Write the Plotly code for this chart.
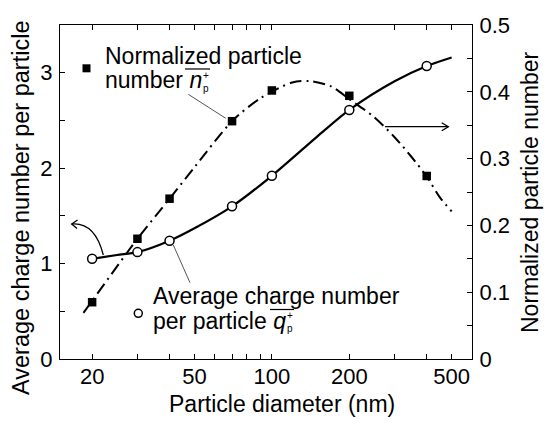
import math
import plotly.graph_objects as go

# ---- data -----------------------------------------------------------------
diam = [20, 30, 40, 70, 100, 200, 400]                      # nm
charge = [1.05, 1.12, 1.24, 1.60, 1.92, 2.61, 3.07]         # left axis
norm_num = [0.085, 0.180, 0.240, 0.356, 0.402, 0.394, 0.274]  # right axis

# fitted curves
fit_q_d = [20, 25, 30, 40, 50, 70, 100, 150, 200, 300, 400, 500]
fit_q = [1.05, 1.09, 1.12, 1.24, 1.37, 1.60, 1.92, 2.33, 2.61, 2.91, 3.07, 3.16]

fit_n_d = [18.5, 20, 30, 40, 50, 70, 90, 120, 140, 170, 200, 250, 300, 350, 400, 450, 500]
fit_n = [0.069, 0.087, 0.180, 0.240, 0.287, 0.356, 0.390, 0.414, 0.416, 0.408,
         0.389, 0.362, 0.332, 0.302, 0.273, 0.242, 0.221]

x_ticks = [20, 50, 100, 200, 500]
x_minor = [30, 40, 60, 70, 80, 90, 300, 400]
y1_ticks = [0, 1, 2, 3]
y1_minor = [0.5, 1.5, 2.5]
y2_ticks = [0, 0.1, 0.2, 0.3, 0.4, 0.5]
y2_labels = ['0', '0.1', '0.2', '0.3', '0.4', '0.5']
y2_minor = [0.05, 0.15, 0.25, 0.35, 0.45]

# ---- geometry (page pixels, body margin removed below) ---------------------
W, H = 550, 428
L, T = 60, 25           # plot area left / top
PW, PH = 412, 334       # plot area size
FONT = 'Liberation Sans, Arial, sans-serif'


def px( x ) :
    return ( x - L ) / PW


def py( y ) :
    return ( T + PH - y ) / PH


def path( pts ) :
    return 'M ' + ' L '.join( f'{px(a):.4f},{py(b):.4f}' for a, b in pts )


fig = go.Figure( )

# curves and points
fig.add_trace( go.Scatter(
    x = fit_q_d, y = fit_q, mode = 'lines', yaxis = 'y',
    line = dict( color = 'black', width = 2.2, shape = 'spline', smoothing = 0.8 ),
    hoverinfo = 'skip', showlegend = False
) )
fig.add_trace( go.Scatter(
    x = diam, y = charge, mode = 'markers', yaxis = 'y',
    marker = dict( symbol = 'circle', size = 9, color = 'white',
                   line = dict( color = 'black', width = 1.5 ) ),
    showlegend = False
) )
fig.add_trace( go.Scatter(
    x = fit_n_d, y = fit_n, mode = 'lines', yaxis = 'y2',
    line = dict( color = 'black', width = 2, dash = '12px,5px,2px,5px',
                 shape = 'spline', smoothing = 0.8 ),
    hoverinfo = 'skip', showlegend = False
) )
fig.add_trace( go.Scatter(
    x = diam, y = norm_num, mode = 'markers', yaxis = 'y2',
    marker = dict( symbol = 'square', size = 8.5, color = 'black' ),
    showlegend = False
) )

# ---- shapes: legend symbols, leaders, arrows, overlines --------------------
shapes = [ ]
line_k = dict( color = 'black', width = 1.3 )
gray = dict( color = '#555555', width = 1 )
bar = dict( color = 'black', width = 1.2 )

# legend square
shapes.append( dict( type = 'rect', xref = 'paper', yref = 'paper',
                     x0 = px( 82.5 ), x1 = px( 90.5 ), y0 = py( 72.3 ), y1 = py( 64.3 ),
                     fillcolor = 'black', line = dict( width = 0 ) ) )
# legend circle
shapes.append( dict( type = 'circle', xref = 'paper', yref = 'paper',
                     x0 = px( 134.3 ), x1 = px( 142.3 ), y0 = py( 317.3 ), y1 = py( 309.3 ),
                     fillcolor = 'white', line = dict( color = 'black', width = 1.5 ) ) )
# leader lines
shapes.append( dict( type = 'path', xref = 'paper', yref = 'paper',
                     path = path( [ ( 188.3, 94.3 ), ( 225.7, 118.3 ) ] ), line = gray ) )
shapes.append( dict( type = 'path', xref = 'paper', yref = 'paper',
                     path = path( [ ( 173.3, 245 ), ( 190, 282.7 ) ] ), line = gray ) )
# curved arrow to the left axis
shapes.append( dict( type = 'path', xref = 'paper', yref = 'paper',
                     path = f'M {px(103.3):.4f},{py(255):.4f} Q {px(95):.4f},{py(222):.4f} {px(71.7):.4f},{py(224):.4f}',
                     line = line_k ) )
shapes.append( dict( type = 'path', xref = 'paper', yref = 'paper',
                     path = path( [ ( 77.5, 220 ), ( 71.7, 224 ), ( 77, 228.5 ) ] ), line = line_k ) )
# straight arrow to the right axis
shapes.append( dict( type = 'path', xref = 'paper', yref = 'paper',
                     path = path( [ ( 385, 126.7 ), ( 448.3, 126.7 ) ] ), line = line_k ) )
shapes.append( dict( type = 'path', xref = 'paper', yref = 'paper',
                     path = path( [ ( 441.7, 122.7 ), ( 448.3, 126.7 ), ( 441.7, 130.7 ) ] ), line = line_k ) )
# overlines of the symbols
shapes.append( dict( type = 'path', xref = 'paper', yref = 'paper',
                     path = path( [ ( 185, 69 ), ( 210, 69 ) ] ), line = bar ) )
shapes.append( dict( type = 'path', xref = 'paper', yref = 'paper',
                     path = path( [ ( 270, 309.5 ), ( 294, 309.5 ) ] ), line = bar ) )


# ---- annotations ------------------------------------------------------------
def ann( text, x, y, size = 23, xanchor = 'left', yanchor = 'middle', angle = 0 ) :
    return dict( text = text, x = px( x ), y = py( y ), xref = 'paper', yref = 'paper',
                 xanchor = xanchor, yanchor = yanchor, textangle = angle, showarrow = False,
                 align = 'left', borderpad = 0,
                 font = dict( family = FONT, size = size, color = 'black' ) )


annotations = [
    ann( 'Normalized particle', 104, 55.5 ),
    ann( 'number <i>n</i>', 104, 79.5 ),
    ann( '+<br>p', 202, 81.5, size = 10 ),
    ann( 'Average charge number', 152, 296 ),
    ann( 'per particle <i>q</i>', 152, 321 ),
    ann( '+<br>p', 286, 321.5, size = 10 ),
    ann( 'Particle diameter (nm)', 282, 404, xanchor = 'center' ),
    ann( 'Average charge number per particle', 21, 208, size = 23.5,
         xanchor = 'center', angle = -90 ),
    ann( 'Normalized particle number', 530, 192, xanchor = 'center', angle = -90 ),
]

tickfont = dict( family = FONT, size = 22, color = 'black' )
axis_common = dict(
    showline = True, linecolor = 'black', linewidth = 1.2,
    ticks = 'inside', ticklen = 5, tickwidth = 1, tickcolor = 'black',
    showgrid = False, zeroline = False, tickfont = tickfont,
)

fig.update_layout(
    width = W, height = H,
    margin = dict( l = L, r = W - L - PW, t = T, b = H - T - PH ),
    paper_bgcolor = 'white', plot_bgcolor = 'white',
    font = dict( family = FONT, color = 'black' ),
    xaxis = dict(
        type = 'log', range = [ math.log10( 15 ), math.log10( 600 ) ],
        tickvals = x_ticks, ticktext = [ str( v ) for v in x_ticks ],
        mirror = 'ticks', ticklabelstandoff = -3,
        minor = dict( tickvals = x_minor, ticks = 'inside', ticklen = 5, tickcolor = 'black' ),
        **axis_common
    ),
    yaxis = dict(
        range = [ 0, 3.5 ], tickvals = y1_ticks, ticklabelstandoff = 2,
        minor = dict( tickvals = y1_minor, ticks = 'inside', ticklen = 5, tickcolor = 'black' ),
        **axis_common
    ),
    yaxis2 = dict(
        range = [ 0, 0.5 ], overlaying = 'y', side = 'right',
        tickvals = y2_ticks, ticktext = y2_labels, ticklabelstandoff = 2,
        minor = dict( tickvals = y2_minor, ticks = 'inside', ticklen = 5, tickcolor = 'black' ),
        **axis_common
    ),
    shapes = shapes,
    annotations = annotations,
    showlegend = False,
)

# drop the default page margin so the figure sits at the window's corner
fig.write_html( 'out.html', config = { 'displayModeBar' : False },
                post_script = "document.body.style.margin = '0px';" )
